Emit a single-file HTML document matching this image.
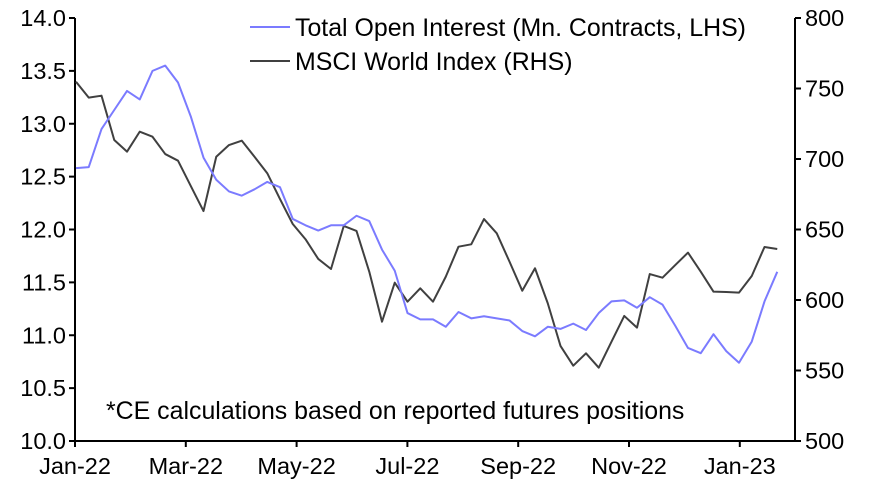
<!DOCTYPE html>
<html><head><meta charset="utf-8"><style>
html,body{margin:0;padding:0;background:#fff;}
svg{display:block;font-family:"Liberation Sans",Arial,sans-serif;}
</style></head><body>
<svg id="chart" width="873" height="485"></svg>
<script>
const monthLabels=["Jan-22","Mar-22","May-22","Jul-22","Sep-22","Nov-22","Jan-23"];
const leftTicks=["10.0","10.5","11.0","11.5","12.0","12.5","13.0","13.5","14.0"];
const rightTicks=["500","550","600","650","700","750","800"];
const openInterest=[12.58,12.59,12.95,13.13,13.31,13.23,13.50,13.55,13.39,13.07,12.68,12.47,12.36,12.32,12.38,12.45,12.40,12.10,12.04,11.99,12.04,12.04,12.13,12.08,11.81,11.61,11.21,11.15,11.15,11.08,11.22,11.16,11.18,11.16,11.14,11.04,10.99,11.08,11.06,11.11,11.05,11.21,11.32,11.33,11.26,11.36,11.29,11.09,10.88,10.83,11.01,10.85,10.74,10.94,11.32,11.60];
const msciWorld=[754.8,743.5,744.9,713.5,705.2,719.4,715.8,703.5,698.8,680.9,663.1,701.6,709.9,713.0,701.6,689.9,671.6,653.9,643.1,629.1,622.0,652.5,649.0,620.1,584.6,612.3,598.8,608.3,598.8,616.5,637.8,639.5,657.4,647.3,627.2,606.6,622.5,597.7,567.4,553.4,562.2,552.0,570.4,588.7,580.4,618.4,615.8,624.8,633.6,620.1,605.9,605.7,605.2,617.0,637.6,636.2];
const NS="http://www.w3.org/2000/svg";
const svg=document.getElementById('chart');
const X0=75,X1=795,YT=18,YB=441;
const FS=23.5, FL=24.9;
const yL=v=>YB-(v-10)/4*(YB-YT);
const yR=v=>YB-(v-500)/300*(YB-YT);
const xW=i=>76+i*12.75;
const xM=i=>75+i*110.8;
function mk(tag,attrs,parent){const e=document.createElementNS(NS,tag);for(const k in attrs)e.setAttribute(k,attrs[k]);(parent||svg).appendChild(e);return e;}
let a=mk('line',{x1:X0,y1:YT,x2:X0,y2:YB,stroke:'#000','stroke-width':2});


a=mk('line',{x1:X1,y1:YT,x2:X1,y2:YB,stroke:'#000','stroke-width':2});


a=mk('line',{x1:X0,y1:YB,x2:X1,y2:YB,stroke:'#000','stroke-width':2});


leftTicks.forEach(t=>{const y=yL(parseFloat(t));
 mk('line',{x1:X0-6,y1:y,x2:X0,y2:y,stroke:'#000','stroke-width':2});
 const e=mk('text',{x:66,y:y+8,'text-anchor':'end','font-size':FS,fill:'#000'});e.textContent=t;
 
 });
rightTicks.forEach(t=>{const y=yR(parseFloat(t));
 mk('line',{x1:X1,y1:y,x2:X1+6,y2:y,stroke:'#000','stroke-width':2});
 const e=mk('text',{x:805,y:y+8,'text-anchor':'start','font-size':FS,fill:'#000'});e.textContent=t;
 
 });
monthLabels.forEach((t,i)=>{const x=xM(i);
 mk('line',{x1:x,y1:YB,x2:x,y2:YB+6,stroke:'#000','stroke-width':2});
 const e=mk('text',{x:x,y:474,'text-anchor':'middle','font-size':FS,fill:'#000'});e.textContent=t;
 
 });
let p=mk('polyline',{points:msciWorld.map((v,i)=>xW(i)+','+yR(v)).join(' '),fill:'none',stroke:'#404040','stroke-width':2,'stroke-linejoin':'round'});


p=mk('polyline',{points:openInterest.map((v,i)=>xW(i)+','+yL(v)).join(' '),fill:'none',stroke:'#7b7bff','stroke-width':2,'stroke-linejoin':'round'});


let l=mk('line',{x1:250,y1:27,x2:290,y2:27,stroke:'#7b7bff','stroke-width':2});


let t=mk('text',{x:295,y:36,'font-size':FL,fill:'#000'});t.textContent='Total Open Interest (Mn. Contracts, LHS)';


l=mk('line',{x1:250,y1:61,x2:290,y2:61,stroke:'#404040','stroke-width':2});


t=mk('text',{x:295,y:70,'font-size':FL,fill:'#000'});t.textContent='MSCI World Index (RHS)';


t=mk('text',{x:106,y:419,'font-size':FL,fill:'#000'});t.textContent='*CE calculations based on reported futures positions';


</script>
</body></html>
